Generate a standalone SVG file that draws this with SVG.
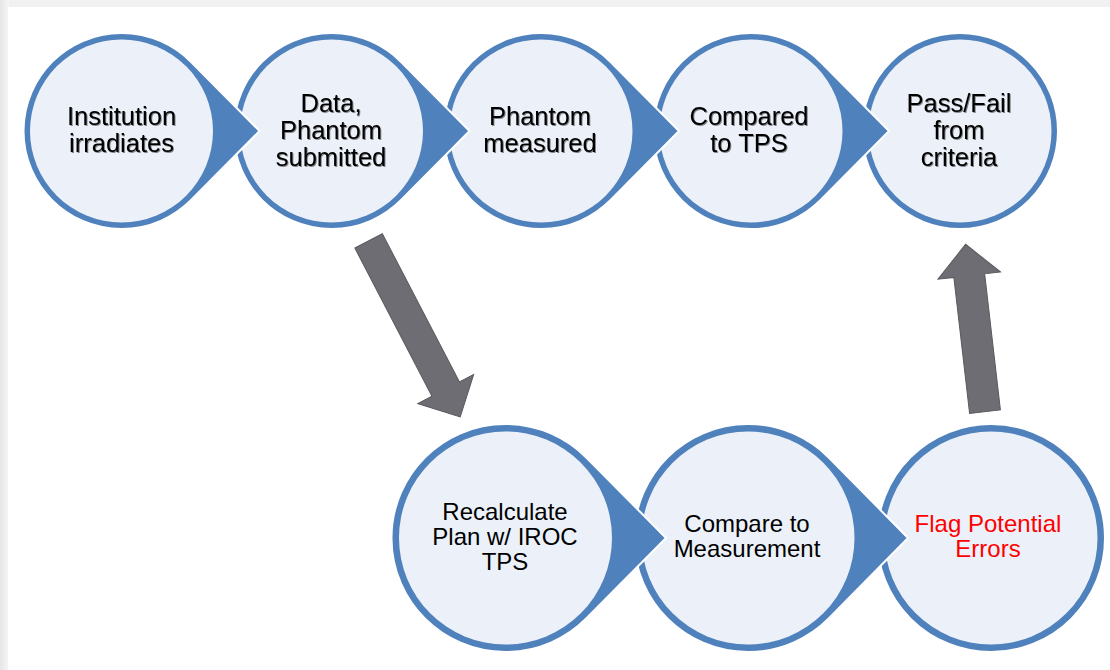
<svg xmlns="http://www.w3.org/2000/svg" width="1110" height="670" viewBox="0 0 1110 670">
<defs>
<style>
.blue{fill:#4F81BD;stroke:#FFFFFF;stroke-width:2}
.inner{fill:#ECF1F9}
.t{font-family:"Liberation Sans",Arial,sans-serif;font-size:25.5px;fill:#000;text-anchor:middle}
.tb{font-family:"Liberation Sans",Arial,sans-serif;font-size:24px;fill:#000;text-anchor:middle}
.red{fill:#FF0000}
.arr{fill:#6E6D73;stroke:#5A5A5E;stroke-width:1}
</style>
<filter id="sh" x="-10%" y="-10%" width="120%" height="130%">
<feDropShadow dx="1" dy="1" stdDeviation="0.6" flood-color="#000" flood-opacity="0.45"/>
</filter>
<linearGradient id="lg" x1="0" y1="0" x2="1" y2="0">
<stop offset="0" stop-color="#E6E6E6"/>
<stop offset="1" stop-color="#F6F6F6"/>
</linearGradient>
</defs>
<rect x="0" y="0" width="1110" height="670" fill="#F1F1F1"/>
<rect x="0" y="0" width="9" height="670" fill="url(#lg)"/>
<rect x="8" y="7" width="1102" height="663" fill="#FFFFFF"/>

<!-- top row, drawn right to left -->
<g id="n5">
<circle class="blue" cx="960" cy="131" r="98"/>
<circle class="inner" cx="960" cy="131" r="91.5"/>
<g filter="url(#sh)"><text class="t" x="959" y="111.5">Pass/Fail</text><text class="t" x="959" y="138.5">from</text><text class="t" x="959" y="165.5">criteria</text></g>
</g>
<g id="n4">
<path class="blue" d="M889,131 L820.6,62 A98,98 0 1 0 820.6,200 Z"/>
<circle class="inner" cx="751" cy="131" r="91.5"/>
<g filter="url(#sh)"><text class="t" x="749" y="125">Compared</text><text class="t" x="749" y="152">to TPS</text></g>
</g>
<g id="n3">
<path class="blue" d="M679,131 L610.6,62 A98,98 0 1 0 610.6,200 Z"/>
<circle class="inner" cx="541" cy="131" r="91.5"/>
<g filter="url(#sh)"><text class="t" x="540" y="125">Phantom</text><text class="t" x="540" y="152">measured</text></g>
</g>
<g id="n2">
<path class="blue" d="M469.5,131 L401.1,62 A98,98 0 1 0 401.1,200 Z"/>
<circle class="inner" cx="331.5" cy="131" r="91.5"/>
<g filter="url(#sh)"><text class="t" x="331" y="111.5">Data,</text><text class="t" x="331" y="138.5">Phantom</text><text class="t" x="331" y="165.5">submitted</text></g>
</g>
<g id="n1">
<path class="blue" d="M259.5,131 L191.1,62 A98,98 0 1 0 191.1,200 Z"/>
<circle class="inner" cx="121.5" cy="131" r="91.5"/>
<g filter="url(#sh)"><text class="t" x="121.5" y="125">Institution</text><text class="t" x="121.5" y="152">irradiates</text></g>
</g>

<!-- bottom row, drawn right to left -->
<g id="n8">
<circle class="blue" cx="991" cy="538" r="114"/>
<circle class="inner" cx="991" cy="538" r="106.5"/>
<text class="tb red" x="988" y="532">Flag Potential</text><text class="tb red" x="988" y="557">Errors</text>
</g>
<g id="n7">
<path class="blue" d="M908,538 L829.2,458 A114,114 0 1 0 829.2,618 Z"/>
<circle class="inner" cx="748" cy="538" r="106.5"/>
<text class="tb" x="747" y="532">Compare to</text><text class="tb" x="747" y="557">Measurement</text>
</g>
<g id="n6">
<path class="blue" d="M666,538 L586.7,458 A114,114 0 1 0 586.7,618 Z"/>
<circle class="inner" cx="505.5" cy="538" r="106.5"/>
<text class="tb" x="505" y="519.5">Recalculate</text><text class="tb" x="505" y="544.5">Plan w/ IROC</text><text class="tb" x="505" y="569.5">TPS</text>
</g>

<g id="connectors">
<polygon class="arr" transform="translate(368.6,240.9) rotate(62.5)" points="0,-15.5 167,-15.5 167,-31.5 198.4,0 167,31.5 167,15.5 0,15.5"/>
<polygon class="arr" transform="translate(985,411.7) rotate(-96.6)" points="0,-15.5 137,-15.5 137,-31.5 168.5,0 137,31.5 137,15.5 0,15.5"/>
</g>
</svg>
